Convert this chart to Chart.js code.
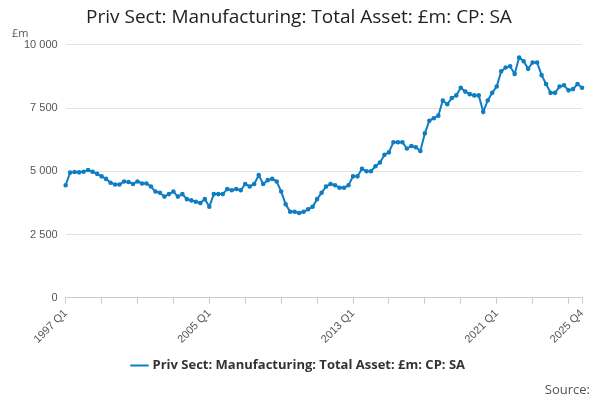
<!DOCTYPE html>
<html><head><meta charset="utf-8">
<script src="https://cdn.jsdelivr.net/npm/chart.js@4"></script>
<style>
body{margin:0;font-family:"Open Sans",sans-serif;}
#wrap{position:relative;width:600px;height:400px;}
#unit{position:absolute;left:12px;top:25px;font-size:11px;color:#555;}
#src{position:absolute;right:10px;top:380px;font-size:13px;color:#555;}
</style></head><body>
<div id="wrap"><canvas id="c" width="600" height="400"></canvas><div id="unit">£m</div><div id="src">Source:</div></div>
<script>
// ---- Data ----
const years = Array.from({ length: 29 }, (_, i) => 1997 + i);
const labels = years.flatMap(y => [1,2,3,4].map(q => y + ' Q' + q));
const values = [
4450,4950,4970,4960, 4980,5050,4980,4900, 4800,4700,4550,4480, 4480,4600,4580,4500,
4600,4520,4520,4400, 4200,4150,4000,4100, 4200,4000,4100,3900, 3850,3800,3750,3900,
3600,4100,4100,4100, 4300,4250,4300,4250, 4500,4400,4500,4850, 4500,4650,4700,4600,
4200,3700,3400,3400, 3350,3400,3500,3600, 3900,4150,4400,4500, 4450,4350,4350,4450,
4800,4800,5100,5000, 5000,5200,5350,5650, 5750,6150,6150,6150, 5900,6000,5950,5800,
6500,7000,7100,7200, 7800,7650,7900,8000, 8300,8150,8050,8000, 8000,7350,7800,8100,
8350,8950,9100,9150, 8850,9500,9350,9050, 9300,9300,8800,8450, 8100,8100,8350,8400,
8200,8250,8450,8300
];
const shownLabels = ['1997 Q1', '2005 Q1', '2013 Q1', '2021 Q1', '2025 Q4'];
const seriesName = 'Priv Sect: Manufacturing: Total Asset: £m: CP: SA';

new Chart(document.getElementById('c'), {
  type: 'line',
  data: {
    labels: labels,
    datasets: [{
      label: seriesName,
      data: values,
      borderColor: '#0f7dc2',
      backgroundColor: '#0f7dc2',
      borderWidth: 2,
      pointRadius: 1.3,
      tension: 0
    }]
  },
  options: {
    animation: false,
    responsive: false,
    layout: { padding: { left: 16, right: 18, top: 0, bottom: 18 } },
    plugins: {
      title: { display: true, text: seriesName, color: '#222', font: { size: 19, family: 'Open Sans', weight: 'normal' }, padding: { top: 6, bottom: 16 } },
      legend: { position: 'bottom', labels: { usePointStyle: true, pointStyle: 'line', color: '#333', font: { size: 13, weight: 'bold', family: 'Open Sans' } } }
    },
    scales: {
      x: {
        offset: false,
        grid: { drawOnChartArea: false, tickLength: 6, color: (ctx) => (ctx.index % 8 === 0 || ctx.index === labels.length - 1) ? '#ccc' : 'rgba(0,0,0,0)' },
        border: { color: '#ccc' },
        ticks: {
          autoSkip: false, maxRotation: 45, minRotation: 45, color: '#555', font: { size: 11 },
          callback: (v, i) => shownLabels.includes(labels[i]) ? labels[i] : ''
        }
      },
      y: {
        min: 0, max: 10000,
        grid: { color: '#e3e3e3', drawTicks: false },
        border: { display: false },
        ticks: { stepSize: 2500, padding: 8, color: '#555', font: { size: 11 },
          callback: v => String(v).replace(/\B(?=(\d{3})+(?!\d))/g, ' ') }
      }
    }
  }
});
</script>
</body></html>
